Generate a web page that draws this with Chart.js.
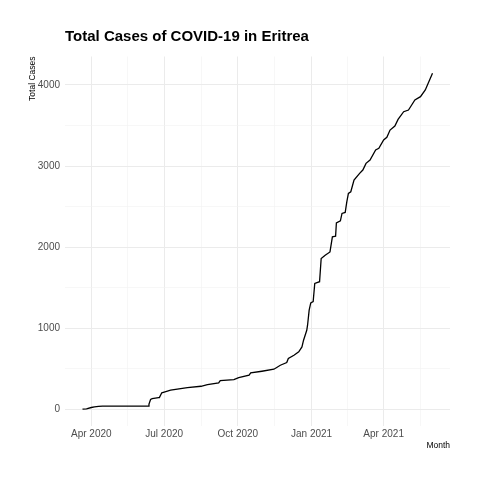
<!DOCTYPE html>
<html>
<head>
<meta charset="utf-8">
<script src="https://cdn.jsdelivr.net/npm/chart.js@4/dist/chart.umd.min.js"></script>
<style>
  html, body { margin: 0; padding: 0; background: #ffffff; }
  #wrap { width: 480px; height: 480px; }
</style>
</head>
<body>
<div id="wrap"><canvas id="casesChart"></canvas></div>
<script>
// Cumulative cases
const dates = [
    '2020-03-21', '2020-03-26', '2020-04-01', '2020-04-05', '2020-04-10', '2020-04-15',
    '2020-06-11', '2020-06-12', '2020-06-14', '2020-06-16', '2020-06-24', '2020-06-25',
    '2020-06-28', '2020-07-01', '2020-07-09', '2020-07-30', '2020-08-16', '2020-08-24',
    '2020-09-07', '2020-09-09', '2020-09-26', '2020-10-02', '2020-10-15', '2020-10-17',
    '2020-10-31', '2020-11-15', '2020-11-23', '2020-12-01', '2020-12-03', '2020-12-10',
    '2020-12-16', '2020-12-20', '2020-12-22', '2020-12-26', '2020-12-27', '2020-12-29',
    '2020-12-31', '2021-01-03', '2021-01-05', '2021-01-11', '2021-01-13', '2021-01-18',
    '2021-01-24', '2021-01-27', '2021-01-31', '2021-02-01', '2021-02-06', '2021-02-08',
    '2021-02-12', '2021-02-14', '2021-02-16', '2021-02-19', '2021-02-23', '2021-03-02',
    '2021-03-06', '2021-03-10', '2021-03-15', '2021-03-22', '2021-03-26', '2021-04-01',
    '2021-04-05', '2021-04-09', '2021-04-15', '2021-04-19', '2021-04-26', '2021-05-02',
    '2021-05-06', '2021-05-10', '2021-05-17', '2021-05-23', '2021-06-01'
];
const totalCases = [
    1, 6, 22, 31, 35, 39,
    39, 65, 121, 131, 143, 144,
    203, 213, 235, 268, 284, 305,
    325, 354, 366, 391, 420, 448,
    469, 494, 543, 576, 626, 667,
    708, 769, 852, 975, 1037, 1222,
    1312, 1328, 1552, 1574, 1860, 1900,
    1941, 2127, 2135, 2300, 2324, 2416,
    2428, 2559, 2663, 2683, 2827, 2910,
    2951, 3033, 3074, 3198, 3218, 3321,
    3354, 3444, 3494, 3576, 3670, 3691,
    3753, 3815, 3856, 3938, 4144
];

// Axis breaks
const xTickDates = ['2020-04-01', '2020-07-01', '2020-10-01', '2021-01-01', '2021-04-01'];
const xTickLabels = ['Apr 2020', 'Jul 2020', 'Oct 2020', 'Jan 2021', 'Apr 2021'];
const yTicks = [0, 1000, 2000, 3000, 4000];

// Days since 2020-01-01, used as the x value
function dayNumber(s) {
    const p = s.split('-').map(Number);
    return (Date.UTC(p[0], p[1] - 1, p[2]) - Date.UTC(2020, 0, 1)) / 86400000;
}

const points = dates.map((d, i) => ({ x: dayNumber(d), y: totalCases[i] }));
const xMajor = xTickDates.map(dayNumber);
const xMinor = [];
for (let i = 0; i < xMajor.length; i++) {
    const next = i + 1 < xMajor.length ? xMajor[i + 1] : dayNumber('2021-07-01');
    xMinor.push((xMajor[i] + next) / 2);
}
const yMinor = yTicks.slice(0, -1).map(v => v + 500);

// ggplot-style 5% expansion of the data range
const xs = points.map(p => p.x);
const xLo = Math.min(...xs), xHi = Math.max(...xs);
const yLo = Math.min(...totalCases), yHi = Math.max(...totalCases);
const xPad = (xHi - xLo) * 0.05, yPad = (yHi - yLo) * 0.05;

const sans = "'Liberation Sans Narrow', 'Liberation Sans', Arial, sans-serif";
const gridColor = ctx => (ctx.tick && ctx.tick.major) ? '#ebebeb' : '#f2f2f2';
const gridWidth = ctx => (ctx.tick && ctx.tick.major) ? 1 : 0.6;

new Chart('casesChart', {
    type: 'line',
    data: {
        datasets: [{
            data: points,
            borderColor: '#000000',
            borderWidth: 1.3,
            pointRadius: 0,
            fill: false,
            tension: 0
        }]
    },
    options: {
        responsive: true,
        maintainAspectRatio: false,
        animation: false,
        layout: { padding: { left: 22, right: 30, top: 0, bottom: 24 } },
        plugins: {
            legend: { display: false },
            tooltip: { enabled: false },
            title: {
                display: true,
                text: 'Total Cases of COVID-19 in Eritrea',
                align: 'start',
                fullSize: false,
                color: '#000000',
                font: { family: sans, size: 15, weight: 'bold' },
                padding: { top: 28, bottom: 10.5 }
            }
        },
        scales: {
            x: {
                type: 'linear',
                min: xLo - xPad,
                max: xHi + xPad,
                afterBuildTicks: scale => {
                    scale.ticks = xMajor.map(v => ({ value: v, major: true }))
                        .concat(xMinor.map(v => ({ value: v, major: false })));
                },
                afterFit: scale => { scale.height = 30; },
                ticks: {
                    autoSkip: false,
                    maxRotation: 0,
                    padding: 2,
                    color: '#4d4d4d',
                    font: { family: sans, size: 10 },
                    callback: v => {
                        const i = xMajor.indexOf(v);
                        return i >= 0 ? xTickLabels[i] : '';
                    }
                },
                grid: { color: gridColor, lineWidth: gridWidth, drawTicks: false },
                border: { display: false },
                title: {
                    display: true,
                    text: 'Month',
                    align: 'end',
                    color: '#000000',
                    font: { family: sans, size: 8.5 },
                    padding: { top: 0, bottom: 5 }
                }
            },
            y: {
                type: 'linear',
                min: yLo - yPad,
                max: yHi + yPad,
                afterBuildTicks: scale => {
                    scale.ticks = yTicks.map(v => ({ value: v, major: true }))
                        .concat(yMinor.map(v => ({ value: v, major: false })));
                },
                afterFit: scale => { scale.width = 43; },
                ticks: {
                    autoSkip: false,
                    padding: 5,
                    color: '#4d4d4d',
                    font: { family: sans, size: 10 },
                    callback: v => yTicks.includes(v) ? String(v) : ''
                },
                grid: { color: gridColor, lineWidth: gridWidth, drawTicks: false },
                border: { display: false },
                title: {
                    display: true,
                    text: 'Total Cases',
                    align: 'end',
                    color: '#000000',
                    font: { family: sans, size: 8.5 },
                    padding: { top: 6, bottom: 0 }
                }
            }
        }
    }
});
</script>
</body>
</html>
